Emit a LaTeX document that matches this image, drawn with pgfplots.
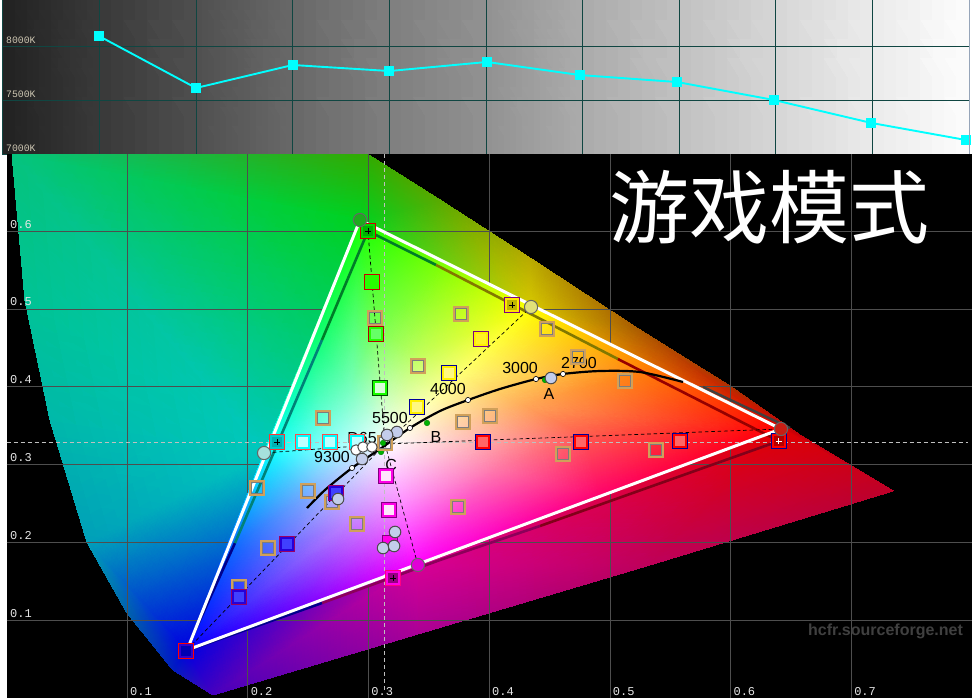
\documentclass[border=0pt]{standalone}
\usepackage{fontspec}
\setmainfont{Liberation Sans}
\newfontfamily\mono{Liberation Mono}
\newfontfamily\cjk{Noto Sans CJK SC}
\usepackage{pgfplots}
\pgfplotsset{compat=1.18}
\usepgfplotslibrary{patchplots}

\definecolor{gridteal}{RGB}{16,70,66}
\definecolor{gridgrey}{RGB}{78,78,78}
\definecolor{tempcyan}{RGB}{0,255,255}
\definecolor{tan1}{RGB}{208,160,90}
\definecolor{tan2}{RGB}{125,125,125}
\definecolor{lilac}{RGB}{195,205,235}
\definecolor{ticktan}{RGB}{205,198,178}
% plain rgb, the xcolor ones come out as cmyk
\definecolor{magenta}{RGB}{255,0,230}
\definecolor{cyan}{RGB}{0,255,255}
\definecolor{yellow}{RGB}{255,240,0}
\definecolor{tgg}{RGB}{30,170,30}
\definecolor{tgy}{RGB}{225,225,120}
\definecolor{tgr}{RGB}{200,30,20}
\definecolor{tgm}{RGB}{225,0,215}
\definecolor{tgc}{RGB}{165,225,220}
\definecolor{pink1}{RGB}{255,0,130}
\definecolor{pink2}{RGB}{150,0,130}

\pgfplotsset{
  tempbox/.style={at={(1.5pt,272.85pt)},anchor=south west,scale only axis,width=483pt,height=77.15pt,
    xmin=0,xmax=100,ymin=7000,ymax=8429},
  ciebox/.style={at={(3.3pt,.95pt)},anchor=south west,scale only axis,width=482.8pt,height=271.8pt,
    xmin=0,xmax=.8,ymin=0,ymax=.6987},
}

% outer square, inner square, fill, points
\newcommand{\sq}[4]{%
  \addplot[only marks,mark=square*,mark size=3.6pt,mark options={draw=#1,fill=#3,line width=.4pt}] coordinates {#4};
  \addplot[only marks,mark=square,mark size=2.9pt,mark options={draw=#2,line width=.85pt}] coordinates {#4};
}
\newcommand{\tg}[3]{%
  \addplot[only marks,mark=*,mark size=3.3pt,mark options={draw=black!60,fill=#1,line width=.5pt}] coordinates {(#2,#3)};
}

\begin{document}
\begin{tikzpicture}
\fill[white] (0,0) rectangle (489.5pt,350pt);
\path[use as bounding box] (0,0) rectangle (489.5pt,350pt);

% colour temperature panel: grey ramp with the grid over it
\begin{axis}[
  tempbox,axis on top,
  xtick={10,20,...,90},xticklabels={},
  ytick={7000,7500,8000},yticklabels={7000K,7500K,8000K},
  major tick length=0pt,
  grid=major,
  grid style={gridteal,line width=.5pt},
  axis line style={gridteal,line width=.5pt},
  yticklabel style={anchor=south west,inner sep=0pt,xshift=1.4pt,yshift=1pt,
    font=\mono\fontsize{4.9}{5}\selectfont,text=ticktan},
]
\addplot[patch,shader=interp,
  mesh/color input=explicit,table/row sep=\\,
  patch table={0 1 3\\ 0 3 2\\ 2 3 5\\ 2 5 4\\ 4 5 7\\ 4 7 6\\ 6 7 9\\ 6 9 8\\ 8 9 11\\ 8 11 10\\ 10 11 13\\ 10 13 12\\ 12 13 15\\ 12 15 14\\ 14 15 17\\ 14 17 16\\ 16 17 19\\ 16 19 18\\ 18 19 21\\ 18 21 20\\}]
table[meta=c] {
x y c\\
0 8429 rgb255=34,34,34\\ 0 7000 rgb255=34,34,34\\
10 8429 rgb255=58,58,58\\ 10 7000 rgb255=58,58,58\\
20 8429 rgb255=80,80,80\\ 20 7000 rgb255=80,80,80\\
30 8429 rgb255=105,105,105\\ 30 7000 rgb255=105,105,105\\
40 8429 rgb255=128,128,128\\ 40 7000 rgb255=128,128,128\\
50 8429 rgb255=146,146,146\\ 50 7000 rgb255=146,146,146\\
60 8429 rgb255=172,172,172\\ 60 7000 rgb255=172,172,172\\
70 8429 rgb255=194,194,194\\ 70 7000 rgb255=194,194,194\\
80 8429 rgb255=215,215,215\\ 80 7000 rgb255=215,215,215\\
90 8429 rgb255=236,236,236\\ 90 7000 rgb255=236,236,236\\
100 8429 rgb255=253,253,253\\ 100 7000 rgb255=253,253,253\\
};
\end{axis}
\begin{axis}[tempbox,hide axis]
\addplot[tempcyan,line width=.95pt,mark=square*,mark size=2pt,mark options={fill=tempcyan,draw=tempcyan}]
coordinates {(9.94,8095)(19.98,7614)(30,7827)(40,7771)(50.1,7855)(59.7,7734)(69.8,7669)(79.8,7503)(89.9,7290)(99.7,7132)};
\end{axis}
\draw[color={rgb,255:red,150;green,165;blue,185},line width=.5pt] (484.6pt,272.85pt) -- (484.6pt,350pt);

% CIE chromaticity panel: whole gamut under the grid
\begin{axis}[
  ciebox,axis on top,
  xtick={.1,.2,.3,.4,.5,.6,.7},xticklabels={0.1,0.2,0.3,0.4,0.5,0.6,0.7},
  ytick={.1,.2,.3,.4,.5,.6},yticklabels={0.1,0.2,0.3,0.4,0.5,0.6},
  major tick length=0pt,
  grid=major,
  grid style={gridgrey,line width=.5pt},
  axis line style={draw=none},
  axis background/.style={fill=black},
  tick label style={font=\mono\fontsize{6}{7}\selectfont,text=white!90!black,inner sep=0pt},
  xticklabel style={anchor=south west,xshift=1.2pt,yshift=1pt},
  yticklabel style={anchor=south west,xshift=1.6pt,yshift=1.3pt},
]
\addplot[patch,shader=interp,
  mesh/color input=explicit,table/row sep=\\,
  patch table={0 1 16\\ 1 2 16\\ 16 2 17\\ 2 3 17\\ 3 4 17\\ 17 4 18\\ 4 5 18\\ 5 6 18\\ 6 7 18\\ 7 8 18\\ 18 8 19\\ 8 9 19\\ 9 10 19\\ 19 10 20\\ 10 11 20\\ 11 12 20\\ 12 13 20\\ 20 13 21\\ 13 14 21\\ 14 15 21\\ 15 0 21\\ 21 0 16\\ 16 17 21\\ 17 18 19\\ 19 20 21\\ 17 19 21\\}]
table[meta=c] {
x y c\\
.0045 .6987 rgb255=5,195,125\\
.2994 .6987 rgb255=50,170,0\\
.3591 .6402 rgb255=90,170,0\\
.4336 .5657 rgb255=185,170,0\\
.5248 .4731 rgb255=170,90,0\\
.5993 .4011 rgb255=170,50,0\\
.6573 .3382 rgb255=190,0,10\\
.7344 .2662 rgb255=190,0,40\\
.5331 .1711 rgb255=190,0,90\\
.3408 .0824 rgb255=170,0,150\\
.1710 .0040 rgb255=70,0,190\\
.1379 .0361 rgb255=0,30,190\\
.0998 .1094 rgb255=0,100,170\\
.0666 .2006 rgb255=0,160,185\\
.0360 .3574 rgb255=0,185,170\\
.0152 .5117 rgb255=0,195,150\\
.2928 .6145 rgb255=0,210,30\\
.4345 .5027 rgb255=215,200,0\\
.6416 .3459 rgb255=225,0,0\\
.3408 .1711 rgb255=215,0,150\\
.1495 .0618 rgb255=0,0,225\\
.2133 .3150 rgb255=0,200,190\\
};
\end{axis}

% gamut triangle and measurements, over the grid
\begin{axis}[ciebox,hide axis,unbounded coords=jump]
\addplot[patch,shader=interp,
  mesh/color input=explicit,table/row sep=\\,
  patch table={0 1 12\\ 1 13 12\\ 12 13 24\\ 1 2 13\\ 2 14 13\\ 13 14 24\\ 2 3 14\\ 3 15 14\\ 14 15 24\\ 3 4 15\\ 4 16 15\\ 15 16 24\\ 4 5 16\\ 5 17 16\\ 16 17 24\\ 5 6 17\\ 6 18 17\\ 17 18 24\\ 6 7 18\\ 7 19 18\\ 18 19 24\\ 7 8 19\\ 8 20 19\\ 19 20 24\\ 8 9 20\\ 9 21 20\\ 20 21 24\\ 9 10 21\\ 10 22 21\\ 21 22 24\\ 10 11 22\\ 11 23 22\\ 22 23 24\\ 11 0 23\\ 0 12 23\\ 23 12 24\\}]
table[meta=c] {
x y c\\
.2928 .6145 rgb255=20,255,0\\
.3636 .5586 rgb255=130,255,0\\
.4345 .5027 rgb255=255,255,0\\
.5380 .4243 rgb255=255,120,0\\
.6416 .3459 rgb255=255,0,0\\
.4916 .2585 rgb255=255,0,110\\
.3408 .1711 rgb255=255,0,255\\
.2447 .1171 rgb255=120,0,255\\
.1495 .0618 rgb255=0,0,255\\
.1809 .1891 rgb255=0,100,255\\
.2133 .3150 rgb255=0,255,255\\
.2530 .4654 rgb255=0,255,110\\
.3052 .4718 rgb255=120,255,90\\
.3408 .4436 rgb255=190,255,90\\
.3756 .4153 rgb255=255,255,120\\
.4278 .3767 rgb255=255,170,90\\
.4792 .3369 rgb255=255,90,80\\
.4046 .2932 rgb255=255,120,170\\
.3292 .2508 rgb255=255,140,255\\
.2812 .2238 rgb255=190,130,255\\
.2331 .1955 rgb255=110,110,255\\
.2489 .2598 rgb255=120,170,255\\
.2654 .3227 rgb255=140,255,255\\
.2853 .3973 rgb255=120,255,190\\
.3176 .3292 rgb255=255,255,255\\
};
% white crosshair
\addplot[white!75!black,line width=.4pt,dash pattern=on 2pt off 1.5pt] coordinates {(.3127,.6987)(.3127,.0104)};
\addplot[white!75!black,line width=.4pt,dash pattern=on 2pt off 1.5pt] coordinates {(0,.3292)(.7966,.3292)};
% measured gamut, segment by segment
\addplot[color={rgb,255:red,0;green,125;blue,40},line width=1.3pt] coordinates {(.2994,.6004)(.3558,.5567)};
\addplot[color={rgb,255:red,130;green,120;blue,0},line width=1.3pt] coordinates {(.3558,.5567)(.5065,.4358)};
\addplot[color={rgb,255:red,150;green,0;blue,0},line width=1.3pt] coordinates {(.5065,.4358)(.6399,.3304)};
\addplot[color={rgb,255:red,130;green,0;blue,25},line width=1.3pt] coordinates {(.6399,.3304)(.4419,.2212)};
\addplot[color={rgb,255:red,140;green,0;blue,90},line width=1.3pt] coordinates {(.4419,.2212)(.3591,.1775)(.2613,.1222)};
\addplot[color={rgb,255:red,0;green,0;blue,140},line width=1.3pt] coordinates {(.2613,.1222)(.1486,.0605)(.1892,.1993)};
\addplot[color={rgb,255:red,0;green,130;blue,120},line width=1.3pt] coordinates {(.1892,.1993)(.2613,.4603)};
\addplot[color={rgb,255:red,0;green,125;blue,40},line width=1.3pt] coordinates {(.2613,.4603)(.2994,.6004)};
\addplot[gray!50!black,line width=1.2pt] coordinates {(.5770,.3999)(.6491,.3472)};
% reference gamut
\addplot[white,line width=1.5pt] coordinates {(.2928,.6145)(.6416,.3459)(.1495,.0618)(.2928,.6145)};
% saturation lines
\addplot[black,line width=.35pt,dash pattern=on 1.8pt off 1.4pt] coordinates {
(.3135,.3266)(.2994,.6004)(nan,nan)
(.3135,.3266)(.4345,.5027)(nan,nan)
(.3135,.3266)(.6416,.3459)(nan,nan)
(.3135,.3266)(.3408,.1711)(nan,nan)
(.3135,.3266)(.1486,.0605)(nan,nan)
(.3135,.3266)(.2133,.3150)};
% black body curve
\addplot[black,line width=1.1pt,smooth] coordinates {(.2489,.2443)(.2638,.2675)(.2862,.2958)(.3094,.3202)(.3342,.3472)(.3591,.3690)(.3823,.3831)(.4088,.3973)(.4386,.4101)(.4610,.4166)(.4916,.4204)(.5248,.4191)(.5604,.4063)};
\addplot[only marks,mark=*,mark size=1.3pt,mark options={fill=white,draw=black,line width=.3pt}] coordinates {(.2862,.2958)(.3342,.3472)(.3823,.3831)(.4386,.4101)(.4610,.4166)};
\addplot[only marks,mark=*,mark size=1.4pt,mark options={fill=green!70!black,draw=green!50!black,line width=.2pt}] coordinates {(.3483,.3536)(.3102,.3163)(.4461,.4089)(.3119,.3279)};
% saturation squares
\addplot[only marks,mark=square,mark size=3.5pt,mark options={draw=tan1,line width=.9pt}] coordinates {(.3052,.4885)(.3765,.4937)(.3408,.4268)(.4477,.4744)(.4734,.4384)(.5123,.4076)(.2621,.3600)(.3781,.3549)(.4005,.3626)(.4610,.3137)(.5380,.3189)(.2075,.2700)(.2497,.2662)(.2696,.2520)(.2903,.2238)(.3740,.2456)(.2166,.1929)(.1925,.1428)(.3135,.3279)};
\addplot[only marks,mark=square,mark size=2.75pt,mark options={draw=tan2,line width=.35pt}] coordinates {(.3052,.4885)(.3765,.4937)(.3408,.4268)(.4477,.4744)(.4734,.4384)(.5123,.4076)(.2621,.3600)(.3781,.3549)(.4005,.3626)(.4610,.3137)(.5380,.3189)(.2075,.2700)(.2497,.2662)(.2696,.2520)(.2903,.2238)(.3740,.2456)(.2166,.1929)(.1925,.1428)(.3135,.3279)};
\sq{red!80!black}{green!85!yellow}{green!85!yellow}{(.3027,.5348)}
\sq{red!70!black}{green!85!yellow}{green!60!white}{(.3061,.4680)}
\sq{green!30!black}{green!90!yellow}{green!15!white}{(.3094,.3986)}
\sq{violet}{yellow}{yellow!85!white}{(.3930,.4616)}
\sq{blue!60!black}{yellow}{yellow!50!white}{(.3665,.4178)(.3400,.3741)}
\sq{red!70!white}{cyan}{cyan!25!white}{(.2456,.3292)(.2679,.3292)(.2903,.3292)}
\sq{blue!60!black}{red}{red!60!white}{(.3947,.3292)(.4759,.3292)(.5579,.3304)}
\sq{violet}{magenta}{magenta!10!white}{(.3143,.2855)(.3168,.2418)}
\sq{violet}{magenta}{magenta}{(.3176,.1993)}
\sq{red!60!blue}{blue!85!red}{blue!75!white}{(.2729,.2636)(.2323,.1981)(.1925,.1299)}
\sq{red!80!black}{green!85!black}{green!70!black}{(.2994,.6004)}
\sq{violet}{yellow!90!orange}{yellow!75!black}{(.4187,.5053)}
\sq{blue!60!black}{red}{red!70!black}{(.6399,.3304)}
\sq{pink1}{magenta}{pink2}{(.3201,.1544)}
\sq{red}{blue!80!red}{blue!70!black}{(.1486,.0605)}
\sq{red!80!white}{cyan!80!black}{cyan!70!black}{(.2240,.3292)}
\addplot[only marks,mark=+,mark size=1.6pt,mark options={black,line width=.4pt}] coordinates {(.2994,.6004)(.4187,.5053)(.3201,.1544)(.2240,.3292)};
\addplot[only marks,mark=+,mark size=1.6pt,mark options={white,line width=.5pt}] coordinates {(.6399,.3304)};
% target circles
\tg{tgg}{.2928}{.6145}
\tg{tgy}{.4345}{.5027}
\tg{tgr}{.6416}{.3459}
\tg{tgm}{.3408}{.1711}
\tg{tgc}{.2133}{.3150}
% measured grey scale
\addplot[only marks,mark=*,mark size=2.6pt,mark options={fill=white,draw=black!70,line width=.5pt}] coordinates {(.2895,.3189)(.2953,.3227)(.3027,.3227)};
\addplot[only marks,mark=*,mark size=2.9pt,mark options={fill=lilac,draw=black!70,line width=.5pt}] coordinates {(.4510,.4114)(.3234,.3420)(.3152,.3382)(.2945,.3073)(.2746,.2559)(.3218,.2135)(.3119,.1929)(.3210,.1955)};
% labels
\begin{scope}[every node/.style={font=\fontsize{8}{9}\selectfont,text=black,inner sep=0pt}]
\node at (axis cs:.4254,.4243) {3000};
\node at (axis cs:.4742,.4307) {2700};
\node at (axis cs:.3657,.3973) {4000};
\node at (axis cs:.3176,.3600) {5500};
\node at (axis cs:.2945,.3343) {D65};
\node at (axis cs:.2696,.3099) {9300};
\node at (axis cs:.4494,.3909) {A};
\node at (axis cs:.3558,.3356) {B};
\node at (axis cs:.3186,.2996) {C};
\end{scope}
\node[font=\bfseries\fontsize{8}{9}\selectfont,text=black!75!white,inner sep=0pt] at (axis cs:.7282,.0862) {hcfr.sourceforge.net};
\node[font=\cjk\fontsize{40}{44}\selectfont,text=white,inner sep=0pt] at (axis cs:.6317,.6312) {游戏模式};
\end{axis}
\end{tikzpicture}
\end{document}
